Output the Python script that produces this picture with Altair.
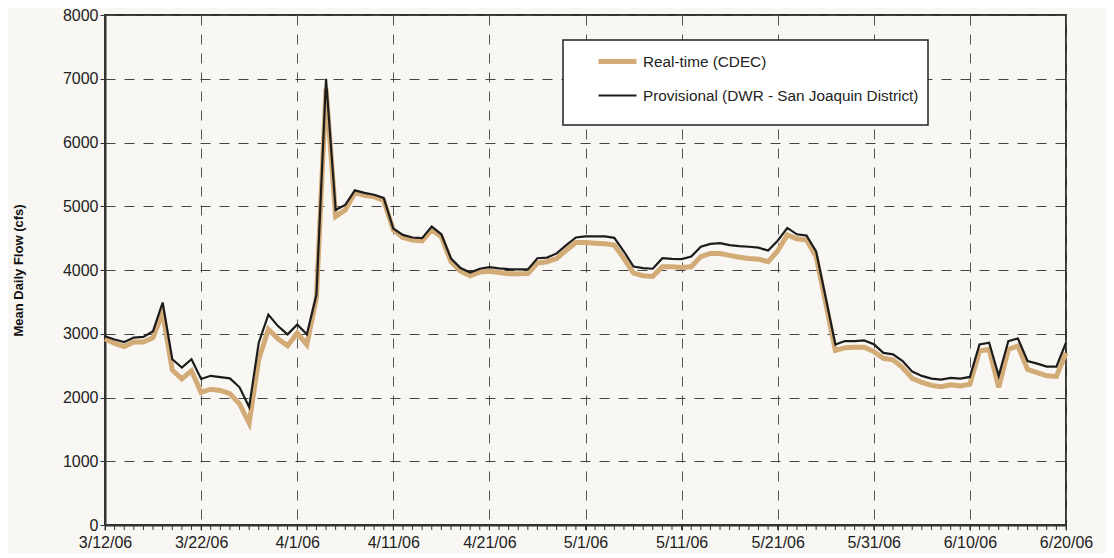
import altair as alt
import pandas as pd

start = "2006-03-12"
n_days = 101

series_names = ["Real-time (CDEC)", "Provisional (DWR - San Joaquin District)"]

realtime = [2920, 2850, 2800, 2870, 2870, 2940, 3330, 2430, 2290, 2420,
            2080, 2130, 2110, 2060, 1900, 1600, 2600, 3070, 2920, 2810,
            3010, 2830, 3560, 6850, 4840, 4940, 5210, 5170, 5150, 5090,
            4630, 4510, 4470, 4455, 4630, 4520, 4130, 3980, 3910, 3970,
            3980, 3960, 3940, 3940, 3945, 4110, 4130, 4180, 4310, 4430,
            4430, 4420, 4410, 4390, 4180, 3950, 3910, 3900, 4050, 4050,
            4040, 4050, 4210, 4260, 4260, 4230, 4200, 4180, 4170, 4130,
            4300, 4550, 4490, 4470, 4210, 3480, 2740, 2780, 2790, 2790,
            2720, 2615, 2590, 2470, 2300, 2235, 2190, 2170, 2200, 2180,
            2210, 2730, 2755, 2160, 2755, 2810, 2440, 2390, 2340, 2330,
            2700]

provisional = [2960, 2910, 2870, 2940, 2950, 3040, 3490, 2600, 2470, 2600,
               2290, 2340, 2320, 2300, 2160, 1850, 2860, 3300, 3120, 2990,
               3145, 2990, 3610, 7000, 4940, 5020, 5250, 5210, 5180, 5130,
               4650, 4550, 4510, 4500, 4680, 4560, 4180, 4030, 3960, 4020,
               4045, 4025, 4015, 4010, 4010, 4185, 4195, 4260, 4390, 4510,
               4527, 4527, 4527, 4505, 4290, 4055, 4030, 4020, 4185, 4175,
               4170, 4210, 4365, 4410, 4420, 4390, 4375, 4365, 4350, 4305,
               4460, 4660, 4560, 4540, 4290, 3560, 2830, 2885, 2885, 2895,
               2835, 2700, 2677, 2573, 2406, 2339, 2297, 2282, 2308, 2297,
               2323, 2833, 2859, 2339, 2885, 2926, 2573, 2531, 2485, 2485,
               2859]

y_ticks = [0, 1000, 2000, 3000, 4000, 5000, 6000, 7000, 8000]

dates = pd.date_range(start, periods=n_days, freq="D").strftime("%Y-%m-%d").tolist()

rows = []
for d, v in zip(dates, realtime):
    rows.append({"date": d, "flow": v, "series": series_names[0]})
for d, v in zip(dates, provisional):
    rows.append({"date": d, "flow": v, "series": series_names[1]})
df = pd.DataFrame(rows)
ticks_df = pd.DataFrame({"date": dates})

W, H = 961, 510
TOP = 7
FONT = "Liberation Sans"
TAN = "#d3ab77"
DARK = "#1c1c1c"

def dt(s):
    y, m, d = [int(p) for p in s.split("-")]
    return alt.DateTime(year=y, month=m, date=d, utc=True)

major_dates = dates[::10]

x_scale = alt.Scale(type="utc", domain=[dt(dates[0]), dt(dates[-1])], nice=False)

x_axis = alt.Axis(values=[dt(s) for s in major_dates],
                  labelExpr="utcFormat(datum.value, '%-m/%-d/%y')",
                  labelFontSize=16, labelFont=FONT, labelFlush=False,
                  labelColor="#222", labelPadding=4, tickSize=5,
                  tickColor="#333", domainColor="#333", domainWidth=2,
                  grid=True, gridDash=[10, 9], gridColor="#555",
                  gridWidth=1, labelOverlap=False, title=None)

legend = alt.Legend(
    title=None, orient="none", legendX=491, legendY=40 - (8 + TOP),
    padding=0, symbolType="stroke", symbolSize=1444, labelFontSize=15.3,
    labelFont=FONT, labelColor="#222", labelLimit=500, rowPadding=3,
    symbolOffset=0, labelOffset=4, direction="vertical",
)

lines = alt.Chart(df).mark_line().encode(
    x=alt.X("date:T", scale=x_scale, axis=x_axis),
    y=alt.Y("flow:Q", scale=alt.Scale(domain=[0, 8000], nice=False),
            title="Mean Daily Flow (cfs)",
            axis=alt.Axis(values=y_ticks, format="d", labelFontSize=16, labelFont=FONT,
                          labelColor="#222", tickSize=5, tickColor="#333",
                          domainColor="#333", domainWidth=2, grid=True,
                          gridDash=[10, 9], gridColor="#444", gridWidth=1,
                          titleFont=FONT, titleFontSize=13, titleFontWeight="bold",
                          titleColor="#111", titleX=-87, titleBaseline="middle")),
    color=alt.Color("series:N", scale=alt.Scale(domain=series_names, range=[TAN, DARK]),
                    legend=legend),
    strokeWidth=alt.StrokeWidth("series:N", scale=alt.Scale(domain=series_names, range=[5, 2.2]),
                                legend=legend),
    detail="series:N",
)

minor = alt.Chart(ticks_df).mark_rule(color="#333", strokeWidth=1).encode(
    x=alt.X("date:T", scale=x_scale, axis=x_axis),
    y=alt.value(H),
    y2=alt.value(H + 5),
)

legend_box = alt.Chart(pd.DataFrame({"k": [0]})).mark_rect(
    fill="white", stroke="#222", strokeWidth=1.5
).encode(
    x=alt.value(563 - 105), x2=alt.value(928 - 105),
    y=alt.value(40 - (8 + TOP)), y2=alt.value(125 - (8 + TOP)),
)

chart = alt.layer(lines, minor, legend_box).properties(
    width=W, height=H,
    autosize=alt.AutoSizeParams(type="none"),
    padding={"left": 97, "top": TOP, "right": 40, "bottom": 28},
    background="#f9f7f3",
).configure_view(stroke="#333", strokeWidth=2)

chart.save("out.html", embed_options={"renderer": "svg", "actions": False})
